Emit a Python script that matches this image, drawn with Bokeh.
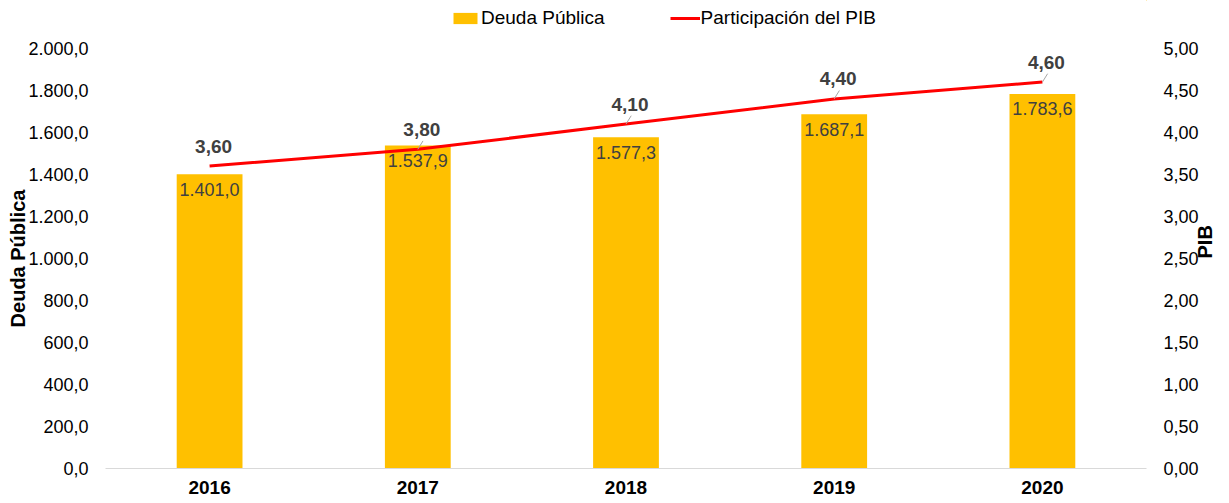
import math
from bokeh.plotting import figure
from bokeh.layouts import column
from bokeh.models import (Range1d, LinearAxis, FixedTicker, Legend, LegendItem,
                          ColumnDataSource, CustomJSTickFormatter)
from bokeh.embed import file_html
from bokeh.resources import INLINE
from bokeh.core.properties import value

# ---- data ----
years = ["2016", "2017", "2018", "2019", "2020"]
deuda = [1401.0, 1537.9, 1577.3, 1687.1, 1783.6]
pib = [3.60, 3.80, 4.10, 4.40, 4.60]
left_ticks = [0, 200, 400, 600, 800, 1000, 1200, 1400, 1600, 1800, 2000]
right_ticks = [0.0, 0.5, 1.0, 1.5, 2.0, 2.5, 3.0, 3.5, 4.0, 4.5, 5.0]
series_names = ["Deuda Pública", "Participación del PIB"]


def fmt_es(v, dec):
    s = f"{v:,.{dec}f}"
    return s.replace(",", "X").replace(".", ",").replace("X", ".")


FONT = "Liberation Sans"
BAR_COLOR = "#FFC000"
LINE_COLOR = "#FF0000"
BAR_WIDTH = 0.316
xs = list(range(len(years)))
src = ColumnDataSource(dict(
    x=xs, deuda=deuda, pib=pib,
    deuda_lbl=[fmt_es(v, 1) for v in deuda],
    pib_lbl=[fmt_es(v, 2) for v in pib],
))
lead = ColumnDataSource(dict(
    x0=xs[1:], y0=pib[1:],
    x1=[x + 0.025 for x in xs[1:]], y1=[v + 0.1 for v in pib[1:]],
))

# ---------------- legend strip (same series, ranges kept off the data) -------
leg = figure(width=1229, height=32, x_range=Range1d(-20, -19), y_range=Range1d(-20, -19),
             output_backend="svg", toolbar_location=None, min_border=0)
leg.axis.visible = False
leg.grid.visible = False
leg.outline_line_color = None
lb = leg.vbar(x="x", top="deuda", width=BAR_WIDTH, source=src,
              fill_color=BAR_COLOR, line_color=None)
ll = leg.line(x="x", y="pib", source=src, line_color=LINE_COLOR, line_width=3)
legend = Legend(items=[LegendItem(label=series_names[0], renderers=[lb]),
                       LegendItem(label=series_names[1], renderers=[ll])],
                orientation="horizontal", location=(345, 3),
                label_text_font=FONT, label_text_font_size="19px",
                label_text_color="#000000", glyph_width=30, glyph_height=14,
                label_standoff=1, spacing=65, padding=0, margin=0,
                border_line_color=None, background_fill_alpha=0)
leg.add_layout(legend)

# ---------------- main chart ----------------
p = figure(width=1229, height=471, x_range=Range1d(-0.5, len(years) - 0.5),
           y_range=Range1d(left_ticks[0], left_ticks[-1]),
           output_backend="svg", toolbar_location=None,
           min_border_left=105, min_border_right=80, min_border_top=16,
           min_border_bottom=35)
p.extra_y_ranges = {"pib": Range1d(right_ticks[0], right_ticks[-1])}
p.xgrid.visible = False
p.ygrid.visible = False
p.outline_line_color = None

bars = p.vbar(x="x", top="deuda", bottom=0, width=BAR_WIDTH, source=src,
              fill_color=BAR_COLOR, line_color=None)
line = p.line(x="x", y="pib", y_range_name="pib", source=src,
              line_color=LINE_COLOR, line_width=3)
p.segment(x0="x0", y0="y0", x1="x1", y1="y1", source=lead, y_range_name="pib",
          line_color="#A6A6A6", line_width=1)

p.text(x="x", y="deuda", text="deuda_lbl", source=src, text_align="center",
       text_baseline="middle", y_offset=15, text_font=value(FONT),
       text_font_size="18px", text_color="#404040")
p.text(x="x", y="pib", text="pib_lbl", source=src, y_range_name="pib",
       text_align="center", text_baseline="middle", y_offset=-20, x_offset=4,
       text_font=value(FONT), text_font_size="19px", text_font_style="bold",
       text_color="#404040")

xa = p.xaxis[0]
xa.ticker = FixedTicker(ticks=xs)
xa.formatter = CustomJSTickFormatter(args=dict(years=years),
                                     code="return years[Math.round(tick)] || '';")
xa.axis_line_color = "#D9D9D9"
xa.axis_line_width = 1
xa.major_tick_line_color = None
xa.minor_tick_line_color = None
xa.major_tick_out = 0
xa.major_tick_in = 0
xa.minor_tick_out = 0
xa.major_label_standoff = 12
xa.major_label_text_font = FONT
xa.major_label_text_font_size = "19px"
xa.major_label_text_font_style = "bold"
xa.major_label_text_color = "#000000"

left_fmt = CustomJSTickFormatter(code="""
var s = tick.toFixed(1).split('.');
s[0] = s[0].replace(/\\B(?=(\\d{3})+(?!\\d))/g, '.');
return s[0] + ',' + s[1];
""")
right_fmt = CustomJSTickFormatter(code="return tick.toFixed(2).replace('.', ',');")

ya = p.yaxis[0]
ya.ticker = FixedTicker(ticks=left_ticks)
ya.formatter = left_fmt
ya.axis_label = series_names[0]
ya.axis_label_standoff = -4

ra = LinearAxis(y_range_name="pib", ticker=FixedTicker(ticks=right_ticks),
                formatter=right_fmt, axis_label="PIB", axis_label_standoff=3)
p.add_layout(ra, "right")

for ax in (ya, ra):
    ax.axis_line_color = None
    ax.major_tick_line_color = None
    ax.minor_tick_line_color = None
    ax.major_tick_out = 0
    ax.major_tick_in = 0
    ax.minor_tick_out = 0
    ax.major_label_standoff = 17
    ax.major_label_text_font = FONT
    ax.major_label_text_font_size = "18px"
    ax.major_label_text_color = "#000000"
    ax.axis_label_text_font = FONT
    ax.axis_label_text_font_size = "20px"
    ax.axis_label_text_font_style = "bold"
    ax.axis_label_text_color = "#000000"

if "axis_label_orientation" in LinearAxis.properties():
    ra.axis_label_orientation = math.pi / 2

layout = column(leg, p, spacing=0)
open("out.html", "w").write(file_html(layout, INLINE))
